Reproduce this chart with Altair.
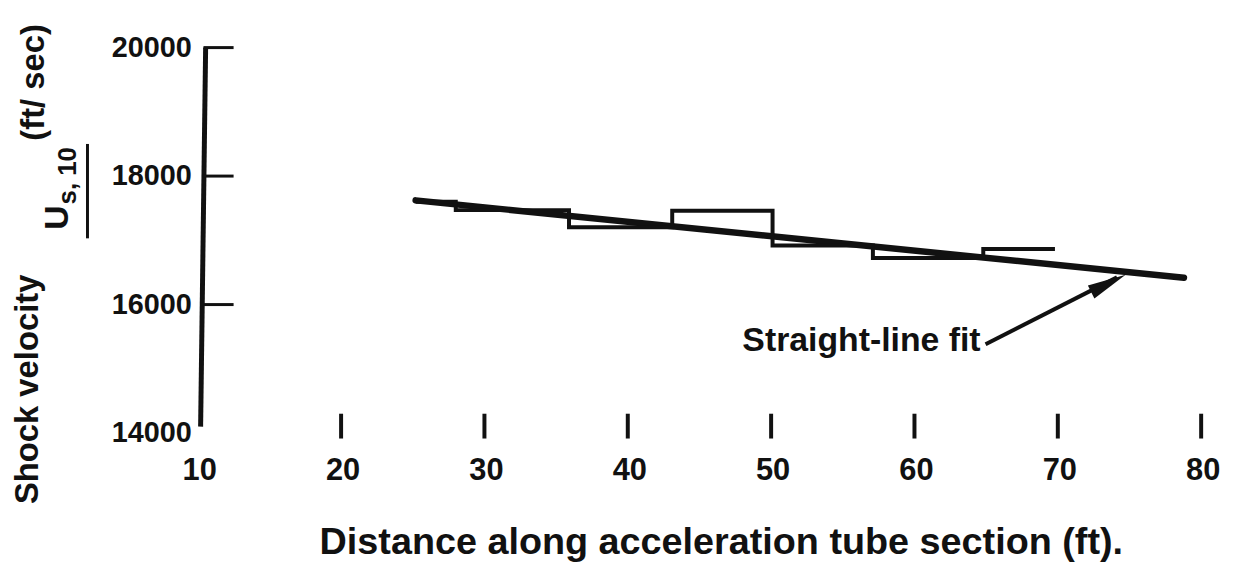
import altair as alt
import pandas as pd

# ---------------- data ----------------
step_x = [25.2, 28.0, 35.9, 43.1, 50.1, 57.1, 64.8, 69.8]
step_v = [17600, 17470, 17205, 17460, 16919, 16726, 16865, 16865]

fit_x = [25.2, 78.8]
fit_v = [17622, 16417]

x_ticks = [10, 20, 30, 40, 50, 60, 70, 80]
y_ticks = [14000, 16000, 18000, 20000]

arrow_tail = (64.96, 15382)
arrow_tip = (74.73, 16463)

FONT = "Liberation Sans, Arial, sans-serif"
INK = "#111111"

xs = alt.Scale(domain=[10, 80], nice=False, zero=False)
ys = alt.Scale(domain=[14000, 20000], nice=False, zero=False)

fit_df = pd.DataFrame({"x": fit_x, "v": fit_v})
step_df = pd.DataFrame({"x": step_x, "v": step_v})

fit = alt.Chart(fit_df).mark_line(color=INK, strokeWidth=6.5, strokeCap="round").encode(
    x=alt.X("x:Q", scale=xs, axis=None), y=alt.Y("v:Q", scale=ys, axis=None))

step = alt.Chart(step_df).mark_line(color=INK, strokeWidth=4, interpolate="step-after",
                                    strokeJoin="miter").encode(
    x=alt.X("x:Q", scale=xs, axis=None), y=alt.Y("v:Q", scale=ys, axis=None))

# y axis line (slightly skewed as in the scan)
yaxis_df = pd.DataFrame({"x": [10.55], "x2": [10.2], "y": [20000], "y2": [14100]})
yaxis = alt.Chart(yaxis_df).mark_rule(color=INK, strokeWidth=5).encode(
    x=alt.X("x:Q", scale=xs, axis=None), x2="x2:Q",
    y=alt.Y("y:Q", scale=ys, axis=None), y2="y2:Q")

ytick_df = pd.DataFrame({"v": y_ticks[1:], "x": 10.4, "x2": 12.5})
yticks = alt.Chart(ytick_df).mark_rule(color=INK, strokeWidth=3).encode(
    x=alt.X("x:Q", scale=xs, axis=None), x2="x2:Q",
    y=alt.Y("v:Q", scale=ys, axis=None))

xtick_df = pd.DataFrame({"x": x_ticks[1:], "y": 14301, "y2": 13915})
xticks = alt.Chart(xtick_df).mark_rule(color=INK, strokeWidth=4).encode(
    x=alt.X("x:Q", scale=xs, axis=None),
    y=alt.Y("y:Q", scale=ys, axis=None), y2="y2:Q")

ylab_df = pd.DataFrame({"v": y_ticks, "t": [str(v) for v in y_ticks]})
ylabels = alt.Chart(ylab_df).mark_text(font=FONT, fontWeight="bold", fontSize=29, color=INK,
                                       align="right", baseline="middle").encode(
    y=alt.Y("v:Q", scale=ys, axis=None), x=alt.value(-6), text="t:N")

xlab_df = pd.DataFrame({"x": x_ticks, "t": [str(v) for v in x_ticks]})
xlabels = alt.Chart(xlab_df).mark_text(font=FONT, fontWeight="bold", fontSize=31, color=INK,
                                       align="center", baseline="middle", dx=2).encode(
    x=alt.X("x:Q", scale=xs, axis=None), y=alt.value(426), text="t:N")

arrow_df = pd.DataFrame({"x": [arrow_tail[0]], "v": [arrow_tail[1]],
                         "x2": [arrow_tip[0] - 0.6], "v2": [arrow_tip[1] - 40]})
arrow = alt.Chart(arrow_df).mark_rule(color=INK, strokeWidth=4).encode(
    x=alt.X("x:Q", scale=xs, axis=None), x2="x2:Q",
    y=alt.Y("v:Q", scale=ys, axis=None), y2="v2:Q")

head_df = pd.DataFrame({"x": [arrow_tip[0]], "v": [arrow_tip[1]]})
head = alt.Chart(head_df).mark_point(shape="M0,0L0.38,2L-0.38,2Z", filled=True, size=1500,
                                     angle=63.6, color=INK, opacity=1, strokeWidth=0).encode(
    x=alt.X("x:Q", scale=xs, axis=None), y=alt.Y("v:Q", scale=ys, axis=None))

def label(text, x, y, size, angle=0, align="center"):
    return alt.Chart(pd.DataFrame({"t": [text]})).mark_text(
        font=FONT, fontWeight="bold", fontSize=size, color=INK, align=align,
        baseline="middle", angle=angle).encode(x=alt.value(x), y=alt.value(y), text="t:N")

annot = label("Straight-line fit", 788, 295, 34, align="right")
xtitle = label("Distance along acceleration tube section (ft).", 527, 499, 38)
yt1 = label("Shock velocity", -171, 344, 33, angle=270)
yt2 = label("U", -141, 171, 34, angle=270)
yt3 = label("s, 10", -131, 129, 26, angle=270)
yt4 = label("(ft/ sec)", -165, 35, 33, angle=270)

bar = alt.Chart(pd.DataFrame({"a": [0]})).mark_rule(color=INK, strokeWidth=3).encode(
    x=alt.value(-111), y=alt.value(97), y2=alt.value(192))

chart = alt.layer(
    yaxis, yticks, xticks, fit, step, arrow, head,
    ylabels, xlabels, annot, xtitle, yt1, yt2, yt3, yt4, bar
).properties(
    width=1010, height=388,
    padding={"left": 191, "top": 38, "right": 24, "bottom": 138},
    autosize=alt.AutoSizeParams(type="none"),
    background="white",
).configure_view(stroke=None)

chart.save("out.html", embed_options={"renderer": "svg", "actions": False})
